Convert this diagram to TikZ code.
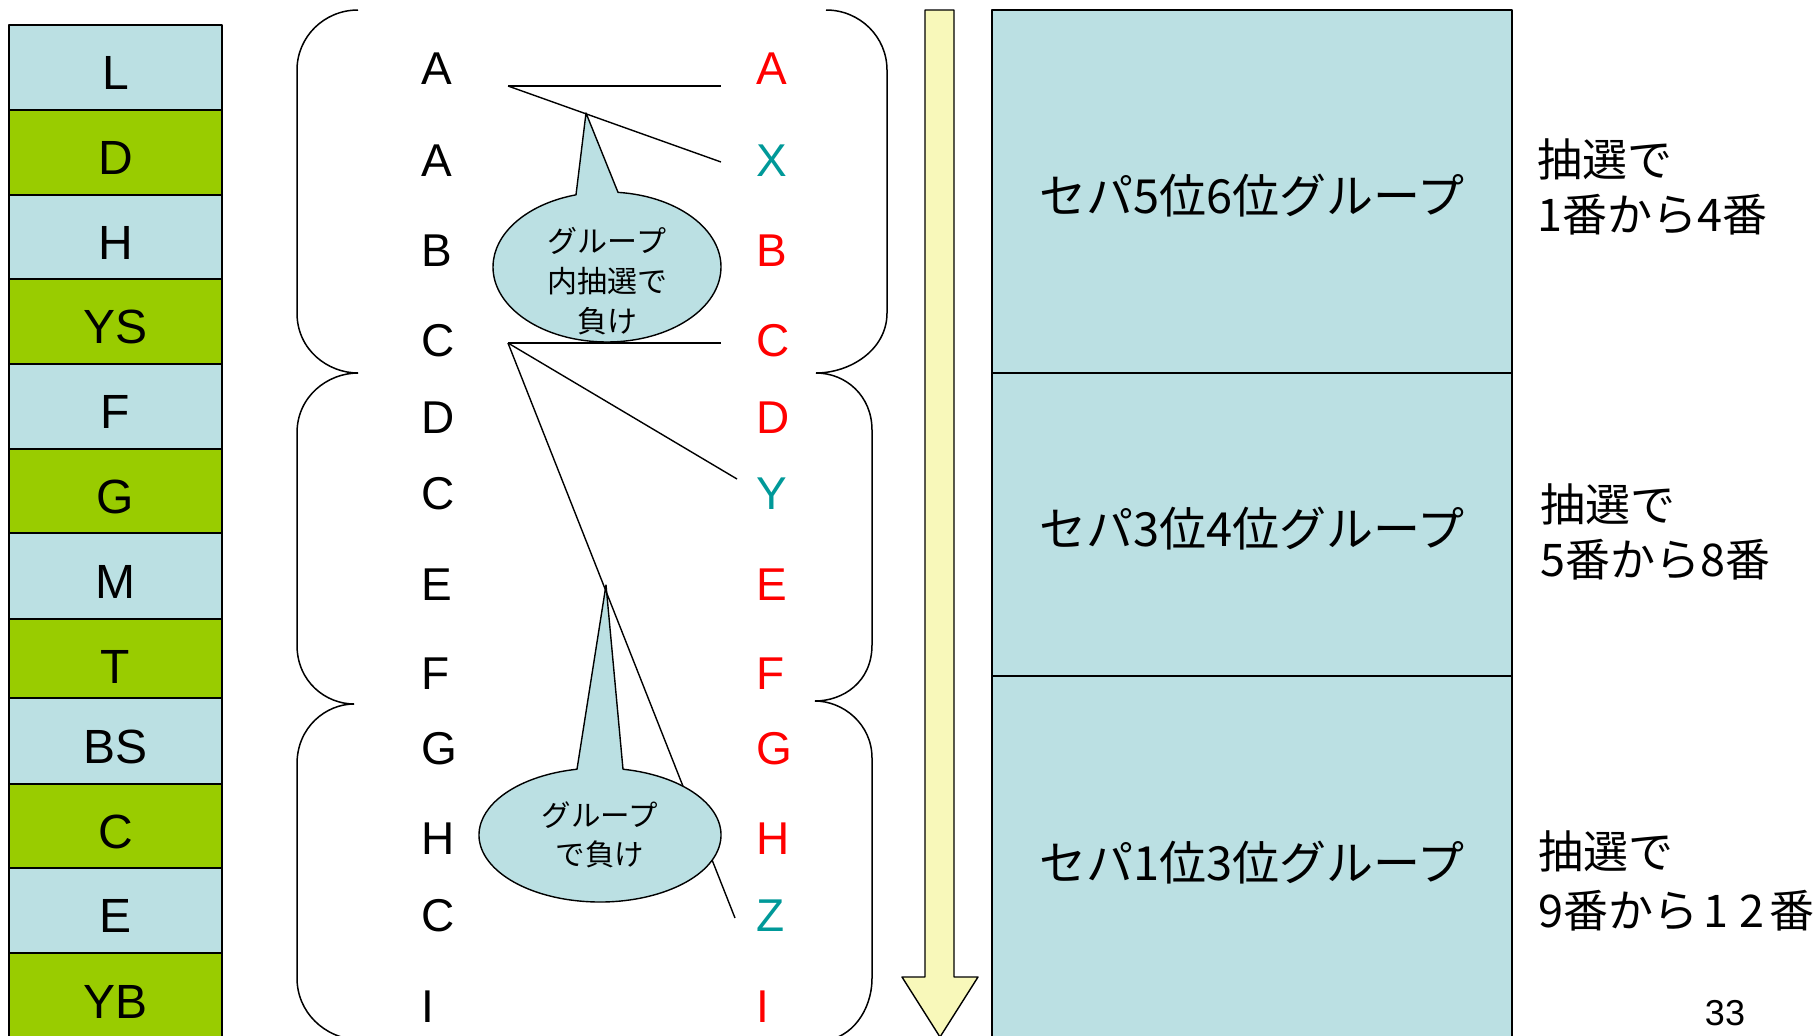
\documentclass[tikz,border=0pt]{standalone}
\usepackage{fontspec}
\setmainfont{Liberation Sans}
\newfontfamily\jp{Noto Sans CJK JP}
\definecolor{lblue}{HTML}{BBE0E3}
\definecolor{lgreen}{HTML}{99CC00}
\definecolor{lyellow}{HTML}{F8F8BA}
\definecolor{tealc}{HTML}{009999}
\definecolor{redc}{HTML}{FF0000}
\begin{document}
\begin{tikzpicture}[x=1pt,y=-1pt,line join=round,
  colbox/.style={draw=black,line width=1.4pt,minimum width=213pt,inner sep=0pt,
    font=\fontsize{48}{50}\selectfont,text height=44pt,text depth=0pt},
  bluebox/.style={colbox,fill=lblue},
  greenbox/.style={colbox,fill=lgreen},
  letter/.style={anchor=west,inner sep=0pt,font=\fontsize{46}{50}\selectfont,text height=33pt,text depth=0pt},
  redl/.style={letter,text=redc},
  teall/.style={letter,text=tealc},
  conn/.style={draw=black,line width=1.4pt},
  bubble/.style={fill=lblue,draw=black,line width=1.4pt},
  bubtext/.style={align=center,inner sep=0pt},
  brace/.style={draw=black,line width=1.5pt},
  rbox/.style={draw=black,fill=lblue,line width=1.4pt,minimum width=520pt,inner sep=0pt,
    font=\jp\fontsize{47}{50}\selectfont,text height=44pt,text depth=0pt},
  rlabel/.style={anchor=west,align=left,inner sep=0pt,font=\jp\fontsize{45}{55}\selectfont}
]
\clip (0,0) rectangle (1818,1036);
\fill[white] (0,0) rectangle (1818,1036);

% left column
\node[bluebox,minimum height=85pt]  (c1)  at (115.5,67.5)  {L};
\node[greenbox,minimum height=85pt] (c2)  at (115.5,152.5) {D};
\node[bluebox,minimum height=84pt]  (c3)  at (115.5,237)   {H};
\node[greenbox,minimum height=85pt] (c4)  at (115.5,321.5) {YS};
\node[bluebox,minimum height=85pt]  (c5)  at (115.5,406.5) {F};
\node[greenbox,minimum height=84pt] (c6)  at (115.5,491)   {G};
\node[bluebox,minimum height=86pt]  (c7)  at (115.5,576)   {M};
\node[greenbox,minimum height=79pt,text height=50pt] (c8)  at (115.5,658.5) {T};
\node[bluebox,minimum height=86pt]  (c9)  at (115.5,741)   {BS};
\node[greenbox,minimum height=84pt] (c10) at (115.5,826)   {C};
\node[bluebox,minimum height=85pt]  (c11) at (115.5,910.5) {E};
\node[greenbox,minimum height=87pt] (c12) at (115.5,996.5) {YB};

% braces
\draw[brace] (358,10) .. controls (324,10) and (297,37) .. (297,70) -- (297,313)
  .. controls (297,350) and (328,373) .. (358,373);
\draw[brace] (358,373) .. controls (328,373) and (297,396) .. (297,433) -- (297,645)
  .. controls (297,682) and (326,704) .. (354,704);
\draw[brace] (354,704) .. controls (326,704) and (297,727) .. (297,764) -- (297,978)
  .. controls (297,1012) and (324,1038) .. (358,1040);
\draw[brace] (826,10) .. controls (860,10) and (887,37) .. (887,70) -- (887,313)
  .. controls (887,350) and (850,373) .. (816,373);
\draw[brace] (816,373) .. controls (846,373) and (872,396) .. (872,430) -- (872,645)
  .. controls (872,682) and (843,701) .. (815,701);
\draw[brace] (815,701) .. controls (843,701) and (872,724) .. (872,758) -- (872,978)
  .. controls (872,1012) and (850,1038) .. (826,1040);

% middle letters, left
\node[letter] (l1)  at (421,68)   {A};
\node[letter] (l2)  at (421,160)  {A};
\node[letter] (l3)  at (421,250)  {B};
\node[letter] (l4)  at (421,340)  {C};
\node[letter] (l5)  at (421,417)  {D};
\node[letter] (l6)  at (421,493)  {C};
\node[letter] (l7)  at (421,584)  {E};
\node[letter] (l8)  at (421,673)  {F};
\node[letter] (l9)  at (421,748)  {G};
\node[letter] (l10) at (421,838)  {H};
\node[letter] (l11) at (421,915)  {C};
\node[letter] (l12) at (421,1006) {I};
% right letters
\node[redl]  (r1)  at (756,68)   {A};
\node[teall] (r2)  at (756,160)  {X};
\node[redl]  (r3)  at (756,250)  {B};
\node[redl]  (r4)  at (756,340)  {C};
\node[redl]  (r5)  at (756,417)  {D};
\node[teall] (r6)  at (756,493)  {Y};
\node[redl]  (r7)  at (756,584)  {E};
\node[redl]  (r8)  at (756,673)  {F};
\node[redl]  (r9)  at (756,748)  {G};
\node[redl]  (r10) at (756,838)  {H};
\node[teall] (r11) at (756,915)  {Z};
\node[redl]  (r12) at (756,1006) {I};

% connectors
\coordinate (pa) at (508,86);
\coordinate (qa) at (721,86);
\coordinate (qx) at (721,162);
\coordinate (pc) at (508,343);
\coordinate (qc) at (721,343);
\coordinate (qy) at (737,479);
\coordinate (qz) at (735,918);
\draw[conn] (pa) -- (qa);
\draw[conn] (pa) -- (qx);
\draw[conn] (pc) -- (qc);
\draw[conn] (pc) -- (qy);
\draw[conn] (pc) -- (qz);

% bubbles
\coordinate (b1c) at (607,267);
\coordinate (b1t) at (586,113);
\draw[bubble] (b1t) -- ([shift={(84.46:114pt and 75pt)}]b1c)
  arc[start angle=84.46,end angle=-254.22,x radius=114pt,y radius=75pt] -- cycle;
\node[bubtext,font=\jp\fontsize{30}{40}\selectfont] (t1) at (607,281) {グループ\\内抽選で\\負け};

\coordinate (b2c) at (600,835);
\coordinate (b2t) at (606,585);
\draw[bubble] (b2t) -- ([shift={(79.04:121pt and 67pt)}]b2c)
  arc[start angle=79.04,end angle=-259.04,x radius=121pt,y radius=67pt] -- cycle;
\node[bubtext,font=\jp\fontsize{29.5}{39}\selectfont] (t2) at (600,835) {グループ\\で負け};

% arrow
\draw[fill=lyellow,draw=black,line width=1.4pt] (925,10) -- (954,10) -- (954,977) -- (978,977)
  -- (940,1037) -- (902,977) -- (925,977) -- cycle;

% right boxes
\node[rbox,minimum height=363pt] (g1) at (1252,191.5) {セパ5位6位グループ};
\node[rbox,minimum height=303pt] (g2) at (1252,524.5) {セパ3位4位グループ};
\node[rbox,minimum height=364pt] (g3) at (1252,858)   {セパ1位3位グループ};

% right labels
\node[rlabel] (n1) at (1537,187) {抽選で\\1番から4番};
\node[rlabel] (n2) at (1540,532) {抽選で\\5番から8番};
\node[rlabel,font=\jp\fontsize{45}{59}\selectfont] (n3) at (1538,881)
  {抽選で\\9番から\kern5pt 1\kern11pt 2\kern5pt 番};

\node[inner sep=0pt,font=\fontsize{36}{40}\selectfont] (pg) at (1725,1013) {33};
\end{tikzpicture}
\end{document}
